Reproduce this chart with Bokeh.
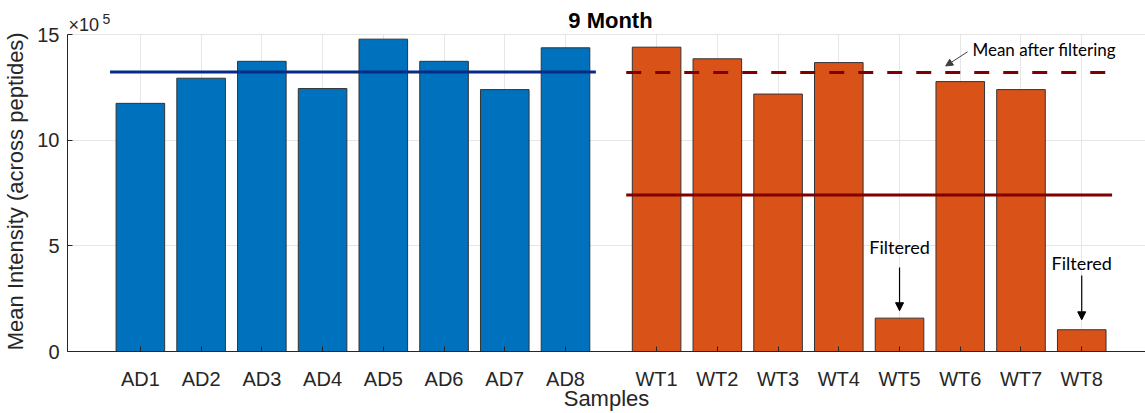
from bokeh.plotting import figure
from bokeh.models import (ColumnDataSource, FixedTicker, Label, Arrow, NormalHead, Range1d)
from bokeh.embed import file_html
from bokeh.resources import INLINE

# ---- data (units of 1e5) ----
ad_labels = ["AD1", "AD2", "AD3", "AD4", "AD5", "AD6", "AD7", "AD8"]
ad_values = [11.75, 12.94, 13.74, 12.45, 14.79, 13.74, 12.40, 14.38]
wt_labels = ["WT1", "WT2", "WT3", "WT4", "WT5", "WT6", "WT7", "WT8"]
wt_values = [14.41, 13.86, 12.19, 13.68, 1.58, 12.78, 12.40, 1.03]
ad_mean = 13.24
wt_mean = 7.41
wt_mean_filtered = 13.21
filtered_labels = ["WT5", "WT8"]
title_text = "9 Month"
y_label = "Mean Intensity (across peptides)"
y_ticks = [0, 5, 10, 15]
y_max = 15

ad_x = [1 + i for i in range(len(ad_labels))]
wt_x = [9.5 + i for i in range(len(wt_labels))]

AXIS_FONT = "Liberation Sans"
TXT = "#262626"

# the frame extends above y_max so the title / exponent labels can live inside it
p = figure(width=1145, height=413, output_backend="svg", toolbar_location=None,
           x_range=Range1d(-0.2, 17.55), y_range=Range1d(0, 16.62),
           min_border_left=66, min_border_right=0, min_border_top=0, min_border_bottom=62)
p.outline_line_color = None
p.background_fill_color = "white"

ad_src = ColumnDataSource(dict(x=ad_x, top=ad_values))
wt_src = ColumnDataSource(dict(x=wt_x, top=wt_values))
p.vbar(x="x", top="top", width=0.8, bottom=0, source=ad_src,
       fill_color="#0072BD", line_color="#333333", line_width=1)
p.vbar(x="x", top="top", width=0.8, bottom=0, source=wt_src,
       fill_color="#D95319", line_color="#333333", line_width=1)

# mean lines
p.line([ad_x[0] - 0.5, ad_x[-1] + 0.5], [ad_mean, ad_mean], line_color="#062A85", line_width=3)
p.line([wt_x[0] - 0.5, wt_x[-1] + 0.5], [wt_mean, wt_mean], line_color="#800000", line_width=3)
p.line([wt_x[0] - 0.5, wt_x[-1] + 0.5], [wt_mean_filtered, wt_mean_filtered],
       line_color="#800000", line_width=3, line_dash="15 14")

# axes
ticks = ad_x + wt_x
p.xaxis.ticker = FixedTicker(ticks=ticks)
p.xaxis.major_label_overrides = {t: l for t, l in zip(ticks, ad_labels + wt_labels)}
p.yaxis.ticker = FixedTicker(ticks=y_ticks)
p.yaxis.major_label_overrides = {t: str(t) for t in y_ticks}
p.yaxis.bounds = (0, y_max)
p.xaxis.axis_label = "Samples"
# trailing no-break spaces re-centre the label on the 0..15 part of the axis
p.yaxis.axis_label = y_label + "\u00a0" * 5
for ax in (p.xaxis, p.yaxis):
    ax.axis_line_color = TXT
    ax.major_tick_line_color = TXT
    ax.major_tick_in = 5
    ax.major_tick_out = 0
    ax.minor_tick_line_color = None
    ax.major_label_text_font = AXIS_FONT
    ax.major_label_text_font_size = "20px"
    ax.major_label_text_color = TXT
    ax.axis_label_text_font = AXIS_FONT
    ax.axis_label_text_font_size = "22px"
    ax.axis_label_text_font_style = "normal"
    ax.axis_label_text_color = TXT
p.xaxis.major_label_standoff = 16
p.xaxis.axis_label_standoff = -7
p.yaxis.major_label_standoff = 8
p.yaxis.axis_label_standoff = 6

p.xgrid.grid_line_color = "#e6e6e6"
p.ygrid.grid_line_color = "#e6e6e6"
p.xgrid.cross_bounds = (0, y_max)

# title and x10^5 exponent, just above the y_max grid line
p.add_layout(Label(x=8.74, y=y_max, y_offset=14, text=title_text,
                   text_font=AXIS_FONT, text_font_size="22px", text_font_style="bold",
                   text_color="#000000", text_align="center", text_baseline="alphabetic"))
p.add_layout(Label(x=-0.2, y=y_max, x_offset=1, y_offset=10, text="×10",
                   text_font=AXIS_FONT, text_font_size="18px", text_color=TXT,
                   text_baseline="alphabetic"))
p.add_layout(Label(x=-0.2, y=y_max, x_offset=35, y_offset=16, text="5",
                   text_font=AXIS_FONT, text_font_size="14px", text_color=TXT,
                   text_baseline="alphabetic"))

# annotations
ANN_FONT = "Lato"
p.add_layout(Label(x=14.7, y=14.3, text="Mean after filtering", text_font=ANN_FONT,
                   text_font_size="17px", text_color="#000000", text_baseline="middle"))
p.add_layout(Arrow(x_start=14.62, y_start=14.19, x_end=14.26, y_end=13.52,
                   line_color="#404040", line_width=1,
                   end=NormalHead(size=7, fill_color="#404040", line_color="#404040")))

filt_pos = {"WT5": (13.5, 4.93, 3.98, 1.93), "WT8": (16.5, 4.21, 3.6, 1.5)}
for lab in filtered_labels:
    xx, ty, ys, ye = filt_pos[lab]
    p.add_layout(Label(x=xx, y=ty, text="Filtered", text_font=ANN_FONT, text_font_size="18px",
                       text_color="#000000", text_align="center", text_baseline="middle"))
    p.add_layout(Arrow(x_start=xx, y_start=ys, x_end=xx, y_end=ye, line_color="#000000",
                       line_width=1.2, end=NormalHead(size=8, fill_color="#000000", line_color="#000000")))

open("out.html", "w").write(file_html(p, INLINE))
